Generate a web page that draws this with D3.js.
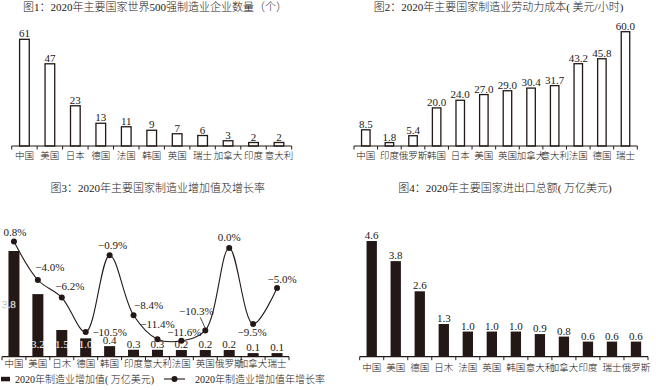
<!DOCTYPE html>
<html>
<head>
<meta charset="utf-8">
<script src="https://cdn.jsdelivr.net/npm/d3@7/dist/d3.min.js"></script>
<style>
    html, body { margin: 0; padding: 0; background: #fff; }
    svg { display: block; }
    text { font-family: "Liberation Serif", "Noto Sans CJK SC", serif; font-weight: 300; fill: #231815; }
</style>
</head>
<body>
<div id="chart"></div>
<script>
/*global d3: false */

//====================================
//data
var firmCountries = ["中国", "美国", "日本", "德国", "法国", "韩国", "英国", "瑞士", "加拿大", "印度", "意大利"];
var firmCounts = [61, 47, 23, 13, 11, 9, 7, 6, 3, 2, 2];

var laborCountries = ["中国", "印度", "俄罗斯", "韩国", "日本", "美国", "英国", "加拿大", "意大利", "法国", "德国", "瑞士"];
var laborCost = [8.5, 1.8, 5.4, 20.0, 24.0, 27.0, 29.0, 30.4, 31.7, 43.2, 45.8, 60.0];

var addedCountries = ["中国", "美国", "日木", "德国", "韩国", "印度", "意大利", "法国", "英国", "俄罗斯", "加拿大", "瑞士"];
//bar heights as drawn (estimated), printed labels differ from drawn heights in the source
var addedValue = [3.8, 2.25, 0.96, 0.66, 0.38, 0.25, 0.25, 0.24, 0.24, 0.24, 0.13, 0.13];
var addedLabels = ["3.8", "3.2", "1.5", "1.0", "0.4", "0.3", "0.3", "0.2", "0.2", "0.2", "0.1", "0.1"];
var addedGrowth = [0.8, -4.0, -6.2, -10.5, -0.9, -8.4, -11.4, -11.6, -10.3, 0.0, -9.5, -5.0];

var tradeCountries = ["中国", "美国", "德国", "日木", "法国", "英国", "韩国", "意大利", "加拿大", "印度", "瑞士", "俄罗斯"];
var tradeTotal = [4.6, 3.8, 2.6, 1.3, 1.0, 1.0, 1.0, 0.9, 0.8, 0.6, 0.6, 0.6];

(function(){
    "use strict";
    var ink = "#231815";
    var svg = d3.select("#chart").append("svg")
        .attr("width", 656)
        .attr("height", 390);

    //growth-rate label nudges (dx, dy from the point)
    var growthLabelShift = [[1, -10], [12, -13], [8, -12], [24, 0], [3, -10], [15, -10],
        [0, -15], [3, -9], [-9, -19], [0, -11], [-1, 8], [5, -9]];

    function title(txt, cx, cy){
        svg.append("text")
            .attr("x", cx)
            .attr("y", cy)
            .attr("text-anchor", "middle")
            .attr("dominant-baseline", "central")
            .style("font-size", "11px")
            .text(txt);
    }

    //category axis with boundary ticks
    function categoryAxis(x, baseline, labelY){
        var g = svg.append("g").attr("transform", "translate(0," + baseline + ")");
        var r = x.range();
        g.append("line")
            .attr("x1", r[0]).attr("x2", r[1])
            .attr("y1", 0).attr("y2", 0)
            .attr("stroke", ink).attr("stroke-width", 1.2);
        var edges = x.domain().map(function(d){ return x(d); }).concat([r[1]]);
        g.selectAll("line.tk").data(edges).enter().append("line")
            .attr("class", "tk")
            .attr("x1", function(d){ return d; })
            .attr("x2", function(d){ return d; })
            .attr("y1", 0).attr("y2", 3.5)
            .attr("stroke", ink).attr("stroke-width", 1);
        g.selectAll("text").data(x.domain()).enter().append("text")
            .attr("x", function(d){ return x(d) + x.bandwidth() / 2; })
            .attr("y", labelY - baseline)
            .attr("text-anchor", "middle")
            .attr("dominant-baseline", "central")
            .style("font-size", "9.5px")
            .text(function(d){ return d; });
    }

    function barChart(cats, vals, x, y, widthRatio, filled, fmt){
        var bw = x.bandwidth() * widthRatio;
        var g = svg.append("g");
        g.selectAll("rect").data(vals).enter().append("rect")
            .attr("x", function(d, i){ return x(cats[i]) + (x.bandwidth() - bw) / 2; })
            .attr("y", function(d){ return y(d); })
            .attr("width", bw)
            .attr("height", function(d){ return y(0) - y(d); })
            .attr("fill", filled ? ink : "#fff")
            .attr("stroke", ink)
            .attr("stroke-width", filled ? 0 : 1.3);
        g.selectAll("text").data(vals).enter().append("text")
            .attr("x", function(d, i){ return x(cats[i]) + x.bandwidth() / 2; })
            .attr("y", function(d){ return y(d) - 6; })
            .attr("text-anchor", "middle")
            .attr("dominant-baseline", "central")
            .style("font-size", "11px")
            .text(fmt);
    }

    //====================================
    //Fig 1
    title("图1：2020年主要国家世界500强制造业企业数量（个）", 155, 7);
    var x1 = d3.scaleBand().domain(firmCountries).range([11.7, 291.7]);
    var y1 = d3.scaleLinear().domain([0, 61]).range([146, 39.3]);
    barChart(firmCountries, firmCounts, x1, y1, 0.38, false, function(d){ return d; });
    categoryAxis(x1, 146, 156);

    //====================================
    //Fig 2
    title("图2：2020年主要国家制造业劳动力成本( 美元/小时)", 498.5, 7);
    var x2 = d3.scaleBand().domain(laborCountries).range([354, 637.3]);
    var y2 = d3.scaleLinear().domain([0, 60]).range([146, 31.7]);
    barChart(laborCountries, laborCost, x2, y2, 0.36, false, function(d){ return d.toFixed(1); });
    categoryAxis(x2, 146, 156);

    //====================================
    //Fig 3
    title("图3：2020年主要国家制造业增加值及增长率", 157.7, 188);
    var x3 = d3.scaleBand().domain(addedCountries).range([2, 289]);
    var y3 = d3.scaleLinear().domain([0, 3.8]).range([356.7, 251]);
    var r3 = d3.scaleLinear().domain([-13.6, 0.8]).range([356.8, 241.6]);
    var bw3 = x3.bandwidth() * 0.46;
    var cx3 = function(i){ return x3(addedCountries[i]) + x3.bandwidth() / 2; };

    var g3 = svg.append("g");
    g3.selectAll("rect").data(addedValue).enter().append("rect")
        .attr("x", function(d, i){ return cx3(i) - bw3 / 2; })
        .attr("y", function(d){ return y3(d); })
        .attr("width", bw3)
        .attr("height", function(d){ return y3(0) - y3(d); })
        .attr("fill", ink);
    //tall bars carry white labels inside, short ones above
    g3.selectAll("text.bl").data(addedLabels).enter().append("text")
        .attr("class", "bl")
        .attr("x", function(d, i){ return cx3(i) - (i === 0 ? 5 : 0); })
        .attr("y", function(d, i){
            var v = addedValue[i];
            if(i === 0){ return (y3(v) + y3(0)) / 2; }
            return v > 0.5 ? y3(0) - 13 : y3(v) - 6;
        })
        .attr("text-anchor", "middle")
        .attr("dominant-baseline", "central")
        .style("font-size", "11px")
        .style("fill", function(d, i){ return addedValue[i] > 0.5 ? "#fff" : ink; })
        .style("stroke", function(d, i){ return i === 0 ? "#bbb" : "none"; })
        .style("stroke-width", 0.3)
        .text(function(d){ return d; });

    var line = d3.line()
        .x(function(d, i){ return cx3(i); })
        .y(function(d){ return r3(d); })
        .curve(d3.curveCatmullRom.alpha(0.5));
    g3.append("path")
        .datum(addedGrowth)
        .attr("d", line)
        .attr("fill", "none")
        .attr("stroke", ink)
        .attr("stroke-width", 1.1);
    g3.selectAll("circle").data(addedGrowth).enter().append("circle")
        .attr("cx", function(d, i){ return cx3(i); })
        .attr("cy", function(d){ return r3(d); })
        .attr("r", 3)
        .attr("fill", ink);

    var pct = function(v){ return (v < 0 ? "\u2212" : "") + Math.abs(v).toFixed(1) + "%"; };
    g3.selectAll("text.gl").data(addedGrowth).enter().append("text")
        .attr("class", "gl")
        .attr("x", function(d, i){ return cx3(i) + growthLabelShift[i][0]; })
        .attr("y", function(d, i){ return r3(d) + growthLabelShift[i][1]; })
        .attr("text-anchor", "middle")
        .attr("dominant-baseline", "central")
        .style("font-size", "11px")
        .text(pct);
    //leader for the UK label
    g3.append("line")
        .attr("x1", cx3(8) - 5).attr("y1", r3(addedGrowth[8]) - 13)
        .attr("x2", cx3(8)).attr("y2", r3(addedGrowth[8]) - 2)
        .attr("stroke", ink).attr("stroke-width", 0.8);
    categoryAxis(x3, 356.7, 364.5);

    //legend
    var lg = svg.append("g");
    lg.append("rect")
        .attr("x", 1).attr("y", 376.8)
        .attr("width", 9).attr("height", 4.5)
        .attr("fill", ink);
    lg.append("text")
        .attr("x", 15).attr("y", 379)
        .attr("dominant-baseline", "central")
        .style("font-size", "10px")
        .text("2020年制造业增加值( 万亿美元)");
    lg.append("line")
        .attr("x1", 164).attr("x2", 185)
        .attr("y1", 379).attr("y2", 379)
        .attr("stroke", ink).attr("stroke-width", 1.1);
    lg.append("circle")
        .attr("cx", 174.5).attr("cy", 379).attr("r", 3)
        .attr("fill", ink);
    lg.append("text")
        .attr("x", 195).attr("y", 379)
        .attr("dominant-baseline", "central")
        .style("font-size", "10px")
        .text("2020年制造业增加值年增长率");

    //====================================
    //Fig 4
    title("图4：2020年主要国家进出口总额( 万亿美元)", 505, 188);
    var x4 = d3.scaleBand().domain(tradeCountries).range([359.7, 648]);
    var y4 = d3.scaleLinear().domain([0, 4.6]).range([356.7, 241]);
    barChart(tradeCountries, tradeTotal, x4, y4, 0.43, true, function(d){ return d.toFixed(1); });
    categoryAxis(x4, 356.7, 368);
})();
</script>
</body>
</html>
